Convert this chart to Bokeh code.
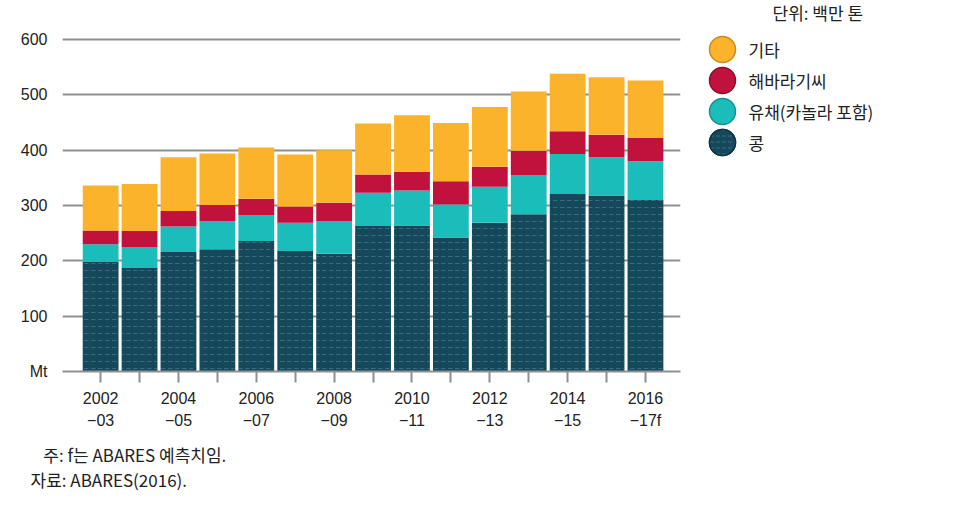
from bokeh.plotting import figure
from bokeh.models import Range1d, FixedTicker, Label, ColumnDataSource, Title
from bokeh.layouts import row
from bokeh.core.properties import value
from bokeh.embed import file_html
from bokeh.resources import INLINE

# ---- data (million tonnes) ----
seasons = ["2002-03", "2003-04", "2004-05", "2005-06", "2006-07", "2007-08",
           "2008-09", "2009-10", "2010-11", "2011-12", "2012-13", "2013-14",
           "2014-15", "2015-16", "2016-17f"]
tick_labels = ["2002\n\u221203", "", "2004\n\u221205", "", "2006\n\u221207", "",
               "2008\n\u221209", "", "2010\n\u221211", "", "2012\n\u221213", "",
               "2014\n\u221215", "", "2016\n\u221217f"]
soybeans = [198, 187, 216, 221, 236, 218, 213, 263, 264, 242, 269, 284, 321, 318, 310]
rapeseed = [32, 38, 46, 51, 47, 51, 59, 60, 63, 60, 65, 71, 72, 69, 70]
sunflower = [25, 29, 28, 29, 29, 29, 33, 33, 34, 42, 36, 44, 41, 41, 42]
other = [81, 85, 97, 93, 93, 94, 95, 92, 102, 105, 108, 107, 104, 104, 104]

series_keys = ["soy", "rape", "sun", "other"]
series_names = ["콩", "유채(카놀라 포함)", "해바라기씨", "기타"]
colors = ["#15485b", "#1bbdbb", "#c1113d", "#fbb32b"]
ring_colors = ["#0d3442", "#15908e", "#8f0c2d", "#c98c1c"]
y_ticks = [0, 100, 200, 300, 400, 500, 600]

unit_text = "단위: 백만 톤"
note_text = "\u2002\u2005주: f는 ABARES 예측치임."
source_text = "자료: ABARES(2016)."

NUM_FONT = "Liberation Sans"
KR_FONT = "Noto Sans CJK KR"
GRID = "#909090"
TXT = "#222222"
H = 515

idx = list(range(len(seasons)))
src = ColumnDataSource(dict(x=idx, soy=soybeans, rape=rapeseed, sun=sunflower, other=other))

# frame spans canvas top (0) to the zero line (371); 600 sits 39px below the top
p = figure(width=698, height=H, x_range=Range1d(-0.98, 14.9), y_range=Range1d(0, 670.5),
           output_backend="svg", toolbar_location=None,
           min_border_left=62, min_border_right=18, min_border_top=0, min_border_bottom=H - 371)
p.outline_line_color = None

rs = p.vbar_stack(series_keys, x="x", width=0.92, color=colors, line_color=None, source=src)
g = rs[0].glyph
g.hatch_pattern = "horizontal_dash"
g.hatch_color = "#5a9aab"
g.hatch_alpha = 0.45
g.hatch_scale = 7
g.hatch_weight = 1

# grid
p.xgrid.grid_line_color = None
p.ygrid.ticker = FixedTicker(ticks=y_ticks)
p.ygrid.grid_line_color = GRID
p.ygrid.grid_line_width = 2

# y axis
p.yaxis.ticker = FixedTicker(ticks=y_ticks)
p.yaxis.major_label_overrides = {0: "Mt"}
p.yaxis.axis_line_color = None
p.yaxis.major_tick_line_color = None
p.yaxis.minor_tick_line_color = None
p.yaxis.major_label_standoff = 9
p.yaxis.major_label_text_font = NUM_FONT
p.yaxis.major_label_text_font_size = "16px"
p.yaxis.major_label_text_color = TXT

# x axis
p.xaxis.ticker = FixedTicker(ticks=idx)
p.xaxis.major_label_overrides = {i: t for i, t in zip(idx, tick_labels)}
p.xaxis.axis_line_color = GRID
p.xaxis.axis_line_width = 2
p.xaxis.major_tick_line_color = GRID
p.xaxis.major_tick_line_width = 2
p.xaxis.major_tick_out = 11
p.xaxis.major_tick_in = 0
p.xaxis.minor_tick_line_color = None
p.xaxis.major_label_standoff = 7
p.xaxis.major_label_text_font = NUM_FONT
p.xaxis.major_label_text_font_size = "16px"
p.xaxis.major_label_text_color = TXT
p.xaxis.major_label_text_line_height = 1.3

# notes below chart (one two-line title)
p.add_layout(Title(text=note_text + "\n" + source_text, align="left", offset=-32, standoff=20,
                   vertical_align="top", text_font=KR_FONT, text_font_size="17px",
                   text_font_style="normal", text_line_height=1.0, text_color=TXT), "below")

# ---- legend panel (frame aligned with main frame: data y == page y) ----
leg = figure(width=255, height=H, x_range=Range1d(0, 255), y_range=Range1d(371, 0),
             output_backend="svg", toolbar_location=None, min_border=0)
leg.axis.visible = False
leg.grid.visible = False
leg.outline_line_color = None

order = [3, 2, 1, 0]
lsrc = ColumnDataSource(dict(
    x=[24] * 4,
    y=[49 + 31 * k for k in range(4)],
    tx=[50] * 4,
    name=[series_names[i] for i in order],
    color=[colors[i] for i in order],
    ring=[ring_colors[i] for i in order],
))
leg.scatter("x", "y", size=26, fill_color="color", line_color="ring", line_width=1.5, source=lsrc)
leg.text("tx", "y", text="name", source=lsrc, text_font=value(KR_FONT), text_font_size="17px",
         text_color=TXT, text_baseline="middle", text_align="left")
soy_src = ColumnDataSource(dict(x=[24], y=[49 + 31 * 3]))
leg.scatter("x", "y", size=26, fill_color=colors[0], line_color=ring_colors[0], line_width=1.5,
            hatch_pattern="horizontal_dash", hatch_color="#5a9aab", hatch_alpha=0.45,
            hatch_scale=6, hatch_weight=1, source=soy_src)
leg.add_layout(Label(x=74, y=12, text=unit_text, text_font=KR_FONT, text_font_size="17px",
                     text_color=TXT, text_baseline="middle", text_align="left"))

layout = row(p, leg)
open("out.html", "w").write(file_html(layout, INLINE))
